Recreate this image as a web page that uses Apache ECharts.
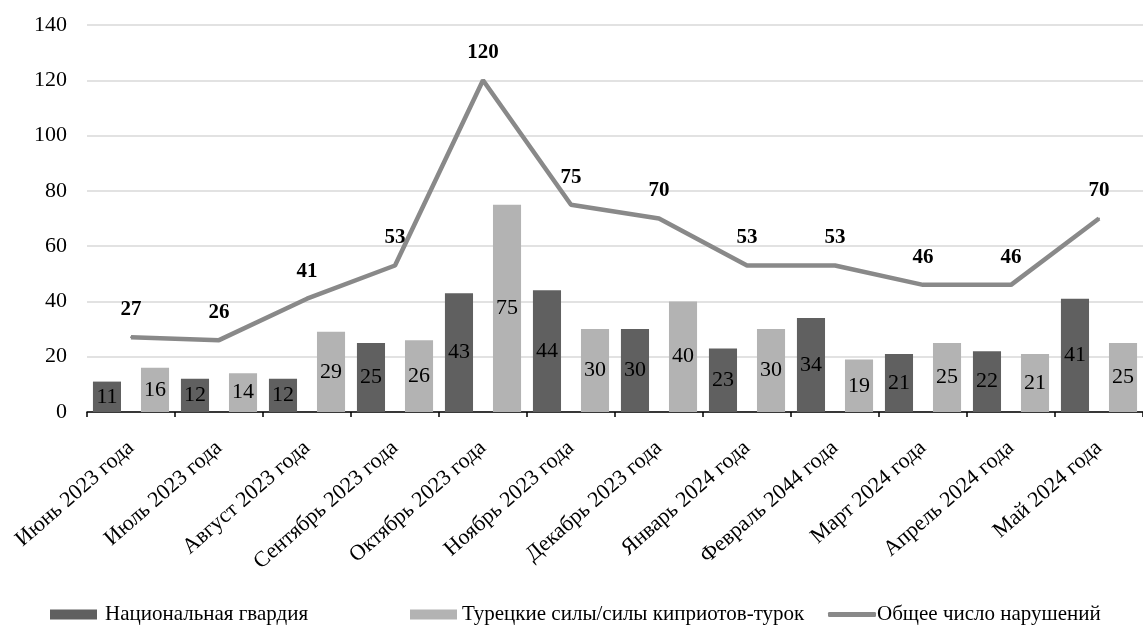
<!DOCTYPE html>
<html>
<head>
<meta charset="utf-8">
<script src="https://cdn.jsdelivr.net/npm/echarts@6/dist/echarts.min.js"></script>
<style>
html,body{margin:0;padding:0;background:#fff;}
#chart{width:1143px;height:625px;}
</style>
</head>
<body>
<div id="chart"></div>
<script>
const categories = ['Июнь 2023 года','Июль 2023 года','Август 2023 года','Сентябрь 2023 года','Октябрь 2023 года','Ноябрь 2023 года','Декабрь 2023 года','Январь 2024 года','Февраль 2044 года','Март 2024 года','Апрель 2024 года','Май 2024 года'];
const nationalGuard = [11,12,12,25,43,44,30,23,34,21,22,41];
const turkishForces = [16,14,29,26,75,30,40,30,19,25,21,25];
const totalViolations = [27,26,41,53,120,75,70,53,53,46,46,70];
const yTicks = [0,20,40,60,80,100,120,140];
const seriesNames = ['Национальная гвардия','Турецкие силы/силы киприотов-турок','Общее число нарушений'];

const FONT = 'Liberation Serif';
const chart = echarts.init(document.getElementById('chart'));
chart.setOption({
  animation: false,
  textStyle: {fontFamily: FONT},
  grid: {left: 87, right: -9, top: 25, bottom: 213},
  legend: [
    {data: [seriesNames[0]], left: 45, top: 599, icon: 'rect', itemWidth: 47, itemHeight: 10,
     textStyle: {fontFamily: FONT, fontSize: 21, color: '#000', padding: [0,0,0,3]}},
    {data: [seriesNames[1]], left: 405, top: 599, icon: 'rect', itemWidth: 47, itemHeight: 10,
     textStyle: {fontFamily: FONT, fontSize: 21, color: '#000'}},
    {data: [seriesNames[2]], left: 823, top: 599, icon: 'roundRect', itemWidth: 48, itemHeight: 5,
     textStyle: {fontFamily: FONT, fontSize: 21, color: '#000', padding: [0,0,0,-4]}}
  ],
  xAxis: {
    type: 'category',
    data: categories,
    boundaryGap: true,
    axisLine: {lineStyle: {color: '#000', width: 1.5}},
    axisTick: {show: true, length: 5, lineStyle: {color: '#000', width: 1.5}},
    axisLabel: {rotate: 41, interval: 0, margin: 33, color: '#000', fontFamily: FONT, fontSize: 22}
  },
  yAxis: {
    type: 'value',
    min: yTicks[0], max: yTicks[yTicks.length-1], interval: 20,
    axisLine: {show: false},
    axisTick: {show: false},
    axisLabel: {margin: 20, color: '#000', fontFamily: FONT, fontSize: 22},
    splitLine: {lineStyle: {color: '#d9d9d9', width: 1.5}}
  },
  series: [
    {name: seriesNames[0], type: 'bar', data: nationalGuard, barGap: '71%', barCategoryGap: '13.5%',
     itemStyle: {color: '#606060'},
     label: {show: true, position: 'inside', color: '#000', fontFamily: FONT, fontSize: 22}},
    {name: seriesNames[1], type: 'bar', data: turkishForces, barGap: '71%', barCategoryGap: '13.5%',
     itemStyle: {color: '#b3b3b3'},
     label: {show: true, position: 'inside', color: '#000', fontFamily: FONT, fontSize: 22}},
    {name: seriesNames[2], type: 'line', data: totalViolations, symbol: 'circle', symbolSize: 2,
     itemStyle: {color: '#898989'},
     lineStyle: {color: '#898989', width: 4.5},
     label: {show: true, position: 'top', distance: 16, color: '#000', fontFamily: FONT, fontSize: 21, fontWeight: 'bold'}}
  ]
});
</script>
</body>
</html>
